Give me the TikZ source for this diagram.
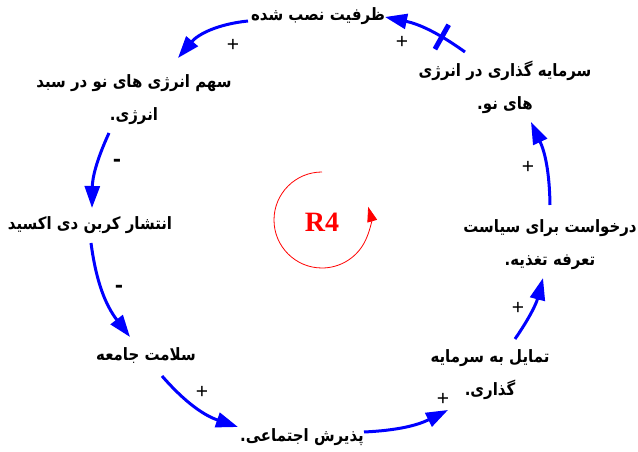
\documentclass[tikz,border=0pt]{standalone}
\usepackage{fontspec}
\usepackage{graphicx}
\usetikzlibrary{arrows.meta}
\TeXXeTstate=1
\newfontfamily\fa[Script=Arabic]{DejaVu Sans}
\newfontfamily\rfont{Liberation Serif}
\newfontfamily\sfont{Liberation Sans}
\newcommand\faline[1]{\scalebox{0.88}[1]{\beginR #1\endR}}
\definecolor{lblue}{RGB}{0,0,255}
\definecolor{lred}{RGB}{255,0,0}
\tikzset{
  lbl/.style={font=\fa\bfseries\fontsize{17}{33}\selectfont, align=center, inner sep=0pt},
  conn/.style={draw=lblue, line width=3pt, -{Triangle[length=22pt,width=15pt]}},
  plussign/.style={font=\sfont\fontsize{21}{21}\selectfont, inner sep=0pt},
  minussign/.style={font=\fa\bfseries\fontsize{20}{20}\selectfont, inner sep=0pt},
}
\begin{document}
\begin{tikzpicture}[x=1pt,y=1pt]
\useasboundingbox (0,0) rectangle (638,452);
% nodes
\node[lbl] (n1) at (318,436) {\faline{ظرفیت نصب شده}};
\node[lbl] (n2) at (505,365) {\faline{سرمایه گذاری در انرژی}\\\faline{های نو.}};
\node[lbl] (n3) at (134,352) {\faline{سهم انرژی های نو در سبد}\\\faline{انرژی.}};
\node[lbl] (n4) at (90,227) {\faline{انتشار کربن دی اکسید}};
\node[lbl] (n5) at (146,96) {\faline{سلامت جامعه}};
\node[lbl] (n6) at (302,15) {\faline{پذیرش اجتماعی.}};
\node[lbl] (n7) at (490,77) {\faline{تمایل به سرمایه}\\\faline{گذاری.}};
\node[lbl] (n8) at (550,207) {\faline{درخواست برای سیاست}\\\faline{تعرفه تغذیه.}};
% connectors
\draw[conn] ([shift={(-70,-5)}]n1.center) to[bend right=22] ([shift={(44,42)}]n3.center);
\draw[conn] ([shift={(-25,-33)}]n3.center) to[bend right=12] ([shift={(2,17)}]n4.center);
\draw[conn] ([shift={(1,-18)}]n4.center) to[bend right=15] ([shift={(-16,19)}]n5.center);
\draw[conn] ([shift={(16,-20)}]n5.center) to[bend right=15] ([shift={(-64,10)}]n6.center);
\draw[conn] ([shift={(62,5)}]n6.center) to[bend right=12] ([shift={(-42,-35)}]n7.center);
\draw[conn] ([shift={(25,36)}]n7.center) to[bend right=10] ([shift={(-7,-33)}]n8.center);
\draw[conn] ([shift={(0,40)}]n8.center) to[bend right=12] ([shift={(26,-35)}]n2.center);
\draw[conn] ([shift={(-40,35)}]n2.center) to[bend right=12]
   node[pos=0.3, sloped, fill=lblue, inner sep=0pt, minimum width=5pt, minimum height=28pt] (dly) {}
   ([shift={(67,-1)}]n1.center);
% signs
\node[plussign] (p1) at (233,407) {+};
\node[minussign] (m2) at (117,289) {-};
\node[minussign] (m3) at (119,163) {-};
\node[plussign] (p4) at (202,60) {+};
\node[plussign] (p5) at (443,53) {+};
\node[plussign] (p6) at (518,144) {+};
\node[plussign] (p7) at (528,285) {+};
\node[plussign] (p8) at (402,410) {+};
% loop marker
\node[font=\rfont\bfseries\fontsize{28}{28}\selectfont, text=lred, inner sep=0pt] (r4) at (322,230) {R4};
\draw[lred, line width=0.8pt, -{Triangle[length=15pt,width=10pt]}] (322,280) arc[start angle=90, end angle=376, radius=48];
\end{tikzpicture}
\end{document}
